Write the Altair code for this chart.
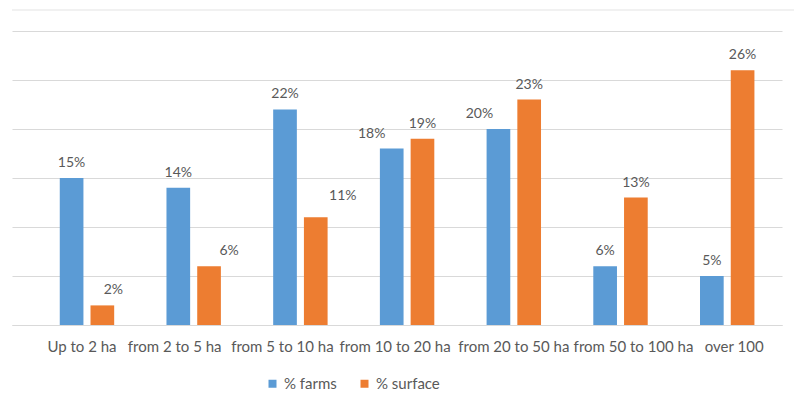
import altair as alt
import pandas as pd

# Farm size classes and the share of farms / farmed surface in each
categories = ["Up to 2 ha", "from 2 to 5 ha", "from 5 to 10 ha", "from 10 to 20 ha",
              "from 20 to 50 ha", "from 50 to 100 ha", "over 100"]
farms = [15, 14, 22, 18, 20, 6, 5]
surface = [2, 6, 11, 19, 23, 13, 26]
series = ["% farms", "% surface"]

# horizontal nudges (px) for value labels that sit beside their bar
farms_dx = [0, 0, 0, -20, -19, 0, 0]
surface_dx = [11, 20, 27, 0, 0, 0, 0]
# horizontal nudges (px) for the category labels under the axis
cat_dx = [-5, -19, -18, -12, 0, 13, 7]

rows = []
for i, c in enumerate(categories):
    rows.append({"cat": c, "series": series[0], "value": farms[i], "dx": farms_dx[i], "dy": 0})
    rows.append({"cat": c, "series": series[1], "value": surface[i], "dx": surface_dx[i],
                 "dy": -6 if surface_dx[i] > 20 else 0})
df = pd.DataFrame(rows)

BLUE = "#5B9BD5"
ORANGE = "#ED7D31"
GRID = "#D9D9D9"
TEXT = "#595959"
FONT = "Lato"

label_offset = {
    "condition": [{"test": f"datum.value === '{c}'", "value": d}
                  for c, d in zip(categories, cat_dx) if d != 0],
    "value": 0,
}

x_enc = alt.X("cat:N", sort=categories, title=None,
              scale=alt.Scale(paddingInner=0.49, paddingOuter=0.353, align=0.634),
              axis=alt.Axis(labelAngle=0, ticks=False, domainColor=GRID, labelColor=TEXT,
                            labelFont=FONT, labelFontSize=15, labelPadding=14, labelOverlap=False,
                            labelOffset=label_offset))
xo_enc = alt.XOffset("series:N", sort=series, scale=alt.Scale(paddingInner=0.23, paddingOuter=0))
y_enc = alt.Y("value:Q", title=None, scale=alt.Scale(domain=[0, 30], nice=False),
              axis=alt.Axis(values=[0, 5, 10, 15, 20, 25, 30], labels=False, ticks=False,
                            domain=False, grid=True, gridColor=GRID, gridWidth=1))

base = alt.Chart(df)

bars = base.mark_bar().encode(
    x=x_enc, xOffset=xo_enc, y=y_enc,
    color=alt.Color("series:N", sort=series, title=None,
                    scale=alt.Scale(domain=series, range=[BLUE, ORANGE]),
                    legend=alt.Legend(orient="none", direction="horizontal", legendX=253, legendY=345,
                                      symbolType="square", symbolSize=64, symbolStrokeWidth=0,
                                      labelFont=FONT, labelFontSize=15, labelColor=TEXT,
                                      columnPadding=20, padding=0)),
)

layers = [bars]
for (dx, dy), _ in df.groupby(["dx", "dy"]):
    sub = base.transform_filter(
        (alt.datum.dx == int(dx)) & (alt.datum.dy == int(dy))
    ).transform_calculate(lbl="datum.value + '%'").mark_text(
        baseline="bottom", dx=int(dx), dy=-8 + int(dy), font=FONT, fontSize=14, color=TEXT
    ).encode(
        x=alt.X("cat:N", sort=categories),
        xOffset=alt.XOffset("series:N", sort=series),
        y=alt.Y("value:Q"),
        text="lbl:N",
    )
    layers.append(sub)

frame = alt.Chart(pd.DataFrame({"k": [0]})).mark_rule(color="#E3E3E3", clip=False).encode(
    x=alt.value(0), x2=alt.value(782), y=alt.value(-21)
)
layers.append(frame)

chart = alt.layer(*layers).properties(
    width=770, height=294,
    autosize=alt.AutoSizeParams(type="none"),
    padding={"left": 12, "top": 31, "right": 12, "bottom": 83},
    background="white",
).configure_view(stroke=None)

chart.save("out.html", embed_options={"renderer": "svg", "actions": False})
